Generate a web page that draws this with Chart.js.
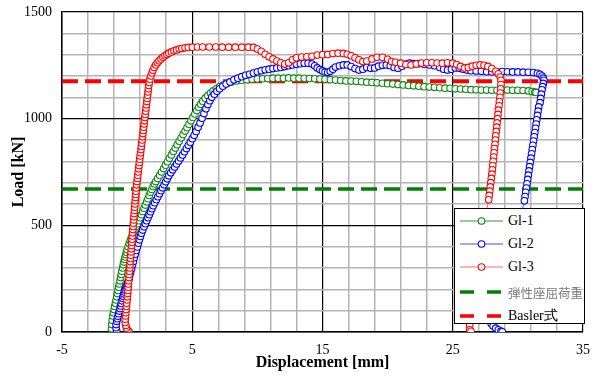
<!DOCTYPE html>
<html>
<head>
<meta charset="utf-8">
<script src="https://cdn.jsdelivr.net/npm/chart.js@4"></script>
<style>
    body { margin: 0; background: #fff; }
    #wrap { position: relative; width: 598px; height: 376px; }
    #legend {
        position: absolute; left: 454px; top: 208px; width: 129px; height: 114px;
        border: 1px solid #000; background: #fff;
        font-family: "Liberation Serif", "Times New Roman", serif; font-size: 14px; color: #000;
    }
    .row { position: absolute; left: 0; height: 20px; display: flex; align-items: center; white-space: nowrap; }
    .row svg { margin-left: 5px; }
    .row span { margin-left: 4px; }
    .jp { font-family: "Noto Sans CJK JP", sans-serif; font-size: 12.5px; color: #7a7a7a; }
</style>
</head>
<body>
<div id="wrap">
    <canvas id="loadChart" width="598" height="376"></canvas>
    <div id="legend"></div>
</div>
<script>
// tick labels shown on the axes
const xLabelValues = [-5, 5, 15, 25, 35];
const yLabelValues = [0, 500, 1000, 1500];

// reference loads (dashed lines)
const bucklingLoad = 670;   // 弾性座屈荷重
const baslerLoad = 1175;    // Basler式

// GI-1 (green)
const gi1Disp = [-1.2, -1.18, -1.15, -1.1, -1.05, -1.0, -0.95, -0.9, -0.85, -0.8, -0.75, -0.7, -0.65, -0.6, -0.55, -0.5, -0.45, -0.4, -0.35, -0.3,
    -0.25, -0.2, -0.15, -0.1, -0.05, 0.0, 0.08, 0.16, 0.24, 0.32, 0.4, 0.5, 0.6, 0.7, 0.8, 0.9, 1.0, 1.1, 1.2, 1.3,
    1.4, 1.5, 1.6, 1.7, 1.8, 1.9, 2.0, 2.1, 2.2, 2.35, 2.5, 2.65, 2.8, 2.95, 3.1, 3.25, 3.4, 3.55, 3.7, 3.85,
    4.0, 4.15, 4.3, 4.45, 4.6, 4.75, 4.9, 5.05, 5.2, 5.35, 5.5, 5.65, 5.8, 6.0, 6.2, 6.4, 6.6, 6.85, 7.1, 7.4,
    7.7, 8.0, 8.4, 8.8, 9.2, 9.6, 10.0, 10.4, 10.8, 11.2, 11.6, 12.0, 12.4, 12.8, 13.2, 13.6, 14.0, 14.4, 14.8, 15.2,
    15.6, 16.0, 16.4, 16.8, 17.2, 17.6, 18.0, 18.4, 18.8, 19.2, 19.6, 20.0, 20.4, 20.8, 21.2, 21.6, 22.0, 22.4, 22.8, 23.2,
    23.6, 24.0, 24.4, 24.8, 25.2, 25.6, 26.0, 26.4, 26.8, 27.2, 27.6, 28.0, 28.4, 28.8, 29.2, 29.6, 30.0, 30.4, 30.8, 31.1,
    31.3, 31.4];
const gi1Load = [15, 35, 55, 75, 90, 105, 120, 135, 150, 165, 180, 195, 210, 225, 240, 255, 270, 285, 300, 315,
    328, 340, 352, 363, 374, 385, 400, 415, 428, 440, 452, 466, 480, 494, 508, 522, 536, 550, 565, 580,
    595, 610, 625, 640, 655, 668, 682, 694, 705, 720, 735, 750, 766, 782, 798, 814, 830, 846, 862, 878,
    894, 910, 926, 942, 958, 974, 990, 1006, 1022, 1038, 1054, 1068, 1082, 1096, 1108, 1120, 1130, 1140, 1150, 1159,
    1166, 1172, 1177, 1180, 1183, 1185, 1186, 1187, 1188, 1190, 1190, 1190, 1191, 1190, 1190, 1189, 1188, 1187, 1186, 1185,
    1183, 1181, 1179, 1177, 1176, 1175, 1173, 1171, 1170, 1168, 1166, 1164, 1162, 1160, 1158, 1156, 1154, 1152, 1150, 1148,
    1147, 1145, 1143, 1142, 1140, 1139, 1138, 1136, 1135, 1134, 1134, 1133, 1133, 1133, 1134, 1133, 1133, 1132, 1130, 1127,
    1125, 1123];

// GI-2 (blue)
const gi2Disp = [-0.8, -0.85, -0.85, -0.8, -0.75, -0.7, -0.65, -0.6, -0.55, -0.5, -0.45, -0.4, -0.35, -0.3, -0.25, -0.2, -0.15, -0.1, -0.05, 0.0,
    0.05, 0.1, 0.15, 0.2, 0.27, 0.34, 0.41, 0.48, 0.55, 0.62, 0.7, 0.78, 0.86, 0.94, 1.02, 1.1, 1.2, 1.3, 1.4, 1.5,
    1.6, 1.7, 1.8, 1.9, 2.0, 2.12, 2.24, 2.36, 2.48, 2.6, 2.72, 2.84, 2.96, 3.08, 3.2, 3.35, 3.5, 3.65, 3.8, 3.95,
    4.1, 4.25, 4.4, 4.55, 4.7, 4.85, 5.0, 5.15, 5.3, 5.45, 5.6, 5.75, 5.9, 6.05, 6.2, 6.35, 6.5, 6.7, 6.9, 7.1,
    7.35, 7.6, 7.9, 8.2, 8.5, 8.8, 9.1, 9.4, 9.7, 10.0, 10.3, 10.6, 10.9, 11.2, 11.5, 11.8, 12.1, 12.4, 12.7, 13.0,
    13.3, 13.6, 13.9, 14.2, 14.4, 14.6, 14.8, 15.0, 15.2, 15.4, 15.6, 15.8, 16.0, 16.3, 16.6, 16.9, 17.2, 17.5, 17.8, 18.1,
    18.4, 18.7, 19.0, 19.3, 19.6, 19.9, 20.2, 20.5, 20.8, 21.1, 21.4, 21.7, 22.0, 22.4, 22.8, 23.2, 23.6, 24.0, 24.3, 24.6,
    24.9, 25.2, 25.5, 25.8, 26.1, 26.4, 26.8, 27.2, 27.6, 28.0, 28.4, 28.8, 29.2, 29.6, 30.0, 30.4, 30.8, 31.2, 31.5, 31.7,
    31.85, 31.95, 32.0, 31.95, 31.9, 31.85, 31.8, 31.75, 31.7, 31.6, 31.55, 31.5, 31.45, 31.4, 31.35, 31.3, 31.25, 31.2, 31.15, 31.1,
    31.05, 31.0, 30.95, 30.9, 30.85, 30.8, 30.75, 30.7, 30.65, 30.6, 30.55, 30.5, 30.3, 30.0, 29.7, 29.4, 29.1, 28.8, 28.5, 28.2,
    27.95, 28.1, 28.3, 28.5, 28.7, 28.8];
const gi2Load = [5, 20, 35, 50, 62, 74, 86, 98, 110, 122, 134, 146, 158, 168, 178, 188, 197, 206, 214, 222,
    230, 240, 252, 264, 280, 297, 314, 331, 348, 365, 382, 399, 416, 432, 448, 463, 478, 493, 508, 522,
    536, 550, 564, 578, 592, 606, 620, 634, 648, 662, 676, 690, 704, 718, 732, 746, 760, 774, 788, 802,
    816, 830, 845, 860, 875, 890, 906, 922, 940, 960, 980, 1002, 1024, 1046, 1066, 1084, 1100, 1115, 1128, 1140,
    1152, 1162, 1172, 1182, 1190, 1197, 1203, 1208, 1214, 1220, 1225, 1229, 1232, 1235, 1238, 1240, 1244, 1248, 1252, 1255,
    1258, 1260, 1260, 1256, 1248, 1238, 1230, 1224, 1219, 1217, 1222, 1232, 1242, 1248, 1252, 1252, 1244, 1235, 1228, 1232,
    1240, 1236, 1238, 1246, 1250, 1252, 1248, 1240, 1236, 1246, 1256, 1260, 1258, 1258, 1255, 1252, 1248, 1240, 1232, 1228,
    1232, 1238, 1236, 1232, 1228, 1225, 1223, 1222, 1220, 1219, 1220, 1221, 1220, 1219, 1219, 1218, 1217, 1216, 1213, 1208,
    1200, 1190, 1180, 1165, 1150, 1135, 1115, 1095, 1075, 1055, 1035, 1015, 995, 975, 955, 935, 915, 895, 875, 855,
    835, 815, 795, 775, 755, 735, 715, 695, 675, 655, 635, 615, 560, 480, 400, 320, 240, 160, 100, 60,
    40, 28, 18, 10, 4, 1];

// GI-3 (red)
const gi3Disp = [0.15, 0.05, -0.05, -0.1, -0.15, -0.15, -0.12, -0.1, -0.08, -0.05, -0.03, 0.0, 0.02, 0.04, 0.06, 0.08, 0.1, 0.12, 0.14, 0.16,
    0.18, 0.2, 0.22, 0.24, 0.26, 0.28, 0.3, 0.32, 0.34, 0.36, 0.38, 0.4, 0.42, 0.44, 0.46, 0.48, 0.5, 0.52, 0.54, 0.56,
    0.58, 0.6, 0.62, 0.64, 0.66, 0.68, 0.7, 0.73, 0.76, 0.79, 0.82, 0.85, 0.88, 0.91, 0.94, 0.97, 1.0, 1.03, 1.06, 1.09,
    1.12, 1.15, 1.18, 1.21, 1.24, 1.27, 1.3, 1.33, 1.36, 1.39, 1.42, 1.45, 1.48, 1.51, 1.54, 1.57, 1.6, 1.63, 1.66, 1.7,
    1.75, 1.82, 1.9, 1.98, 2.08, 2.2, 2.32, 2.45, 2.6, 2.75, 2.9, 3.05, 3.2, 3.4, 3.6, 3.8, 4.0, 4.2, 4.45, 4.7,
    5.0, 5.4, 5.8, 6.3, 6.8, 7.3, 7.8, 8.3, 8.8, 9.3, 9.7, 10.0, 10.3, 10.6, 10.9, 11.2, 11.5, 11.8, 12.1, 12.4,
    12.7, 13.0, 13.4, 13.8, 14.2, 14.6, 15.0, 15.4, 15.8, 16.2, 16.6, 16.9, 17.2, 17.5, 17.8, 18.1, 18.4, 18.8, 19.2, 19.6,
    20.0, 20.3, 20.6, 21.0, 21.4, 21.8, 22.2, 22.6, 23.0, 23.4, 23.8, 24.2, 24.6, 25.0, 25.3, 25.6, 25.9, 26.2, 26.5, 26.8,
    27.1, 27.4, 27.7, 28.0, 28.3, 28.5, 28.65, 28.7, 28.7, 28.68, 28.65, 28.62, 28.58, 28.55, 28.5, 28.47, 28.44, 28.4, 28.37, 28.34,
    28.3, 28.27, 28.24, 28.2, 28.17, 28.14, 28.1, 28.07, 28.04, 28.0, 27.96, 27.92, 27.88, 27.84, 27.8, 27.76, 27.5, 27.2, 26.9, 26.6,
    26.4, 26.3, 26.3, 26.4];
const gi3Load = [2, 8, 18, 30, 45, 60, 75, 90, 105, 120, 135, 150, 165, 180, 195, 210, 225, 240, 255, 270,
    285, 300, 315, 330, 345, 360, 375, 390, 405, 420, 435, 450, 465, 480, 495, 510, 525, 540, 555, 570,
    585, 600, 615, 630, 645, 660, 675, 690, 705, 720, 735, 750, 765, 780, 795, 810, 825, 840, 855, 870,
    885, 900, 915, 930, 945, 960, 975, 990, 1005, 1020, 1035, 1050, 1065, 1080, 1095, 1110, 1125, 1140, 1155, 1170,
    1185, 1200, 1214, 1227, 1240, 1252, 1262, 1271, 1280, 1288, 1295, 1301, 1307, 1313, 1318, 1322, 1326, 1329, 1332, 1334,
    1335, 1336, 1336, 1336, 1336, 1335, 1335, 1335, 1335, 1335, 1334, 1326, 1316, 1302, 1290, 1280, 1270, 1262, 1256, 1262,
    1276, 1285, 1289, 1290, 1292, 1298, 1300, 1301, 1305, 1307, 1306, 1302, 1295, 1285, 1276, 1268, 1270, 1280, 1288, 1288,
    1278, 1268, 1264, 1260, 1254, 1252, 1256, 1261, 1262, 1262, 1261, 1260, 1262, 1260, 1254, 1245, 1238, 1240, 1246, 1250,
    1252, 1250, 1245, 1235, 1222, 1210, 1195, 1180, 1160, 1140, 1120, 1100, 1080, 1060, 1040, 1020, 1000, 980, 960, 940,
    920, 900, 880, 860, 840, 820, 800, 780, 760, 740, 720, 700, 680, 660, 640, 620, 540, 440, 320, 180,
    80, 30, 10, 3];

const xMin = -5, xMax = 35;

function pairs(xs, ys) {
    return xs.map((x, i) => ({ x: x, y: ys[i] }));
}

function curve(label, xs, ys, lineColor, markColor, order) {
    return {
        label: label,
        data: pairs(xs, ys),
        showLine: true,
        borderColor: lineColor,
        borderWidth: 1,
        pointStyle: 'circle',
        pointRadius: 3.3,
        pointBorderWidth: 1.1,
        pointBorderColor: markColor,
        pointBackgroundColor: '#fff',
        order: order
    };
}

function refLine(label, load, color, width, order) {
    return {
        label: label,
        data: [{ x: xMin, y: load }, { x: xMax, y: load }],
        showLine: true,
        borderColor: color,
        borderWidth: width,
        borderDash: [16, 7],
        pointRadius: 0,
        order: order
    };
}

const serif = '"Liberation Serif", "Times New Roman", serif';

new Chart(document.getElementById('loadChart'), {
    type: 'scatter',
    data: {
        datasets: [
            curve('Gl-3', gi3Disp, gi3Load, '#ff6a6a', '#ff0000', 1),
            curve('Gl-2', gi2Disp, gi2Load, '#4a4aff', '#0000ff', 2),
            curve('Gl-1', gi1Disp, gi1Load, '#2e9a2e', '#118811', 3),
            refLine('Basler式', baslerLoad, '#ff0000', 4, 4),
            refLine('弾性座屈荷重', bucklingLoad, '#008000', 3.5, 5)
        ]
    },
    options: {
        responsive: false,
        animation: false,
        layout: { padding: { top: 12, right: 15, left: 0, bottom: 0 } },
        plugins: {
            legend: { display: false },
            tooltip: { enabled: false }
        },
        scales: {
            x: {
                type: 'linear',
                min: xMin,
                max: xMax,
                afterFit: s => { s.height = 44; s.paddingLeft = 0; s.paddingRight = 0; },
                ticks: {
                    stepSize: 2,
                    autoSkip: false,
                    maxRotation: 0,
                    padding: 10,
                    color: '#000',
                    font: { family: serif, size: 14 },
                    callback: v => xLabelValues.includes(v) ? String(v) : ''
                },
                grid: {
                    drawTicks: false,
                    color: c => xLabelValues.includes(c.tick.value) ? '#000' : '#b4b4b4',
                    lineWidth: c => xLabelValues.includes(c.tick.value) ? 1.2 : 1.5
                },
                border: { color: '#000', width: 1.5 },
                title: {
                    display: true,
                    text: 'Displacement [mm]',
                    color: '#000',
                    font: { family: serif, size: 16, weight: 'bold' },
                    padding: { top: 0, bottom: 4 }
                }
            },
            y: {
                min: 0,
                max: 1500,
                afterFit: s => { s.width = 62; s.paddingTop = 0; s.paddingBottom = 0; },
                ticks: {
                    stepSize: 100,
                    autoSkip: false,
                    padding: 10,
                    color: '#000',
                    font: { family: serif, size: 14 },
                    callback: v => yLabelValues.includes(v) ? String(v) : ''
                },
                grid: {
                    drawTicks: false,
                    color: c => yLabelValues.includes(c.tick.value) ? '#000' : '#b4b4b4',
                    lineWidth: c => yLabelValues.includes(c.tick.value) ? 1.2 : 1.5
                },
                border: { color: '#000', width: 1.5 },
                title: {
                    display: true,
                    text: 'Load [kN]',
                    color: '#000',
                    font: { family: serif, size: 16, weight: 'bold' },
                    padding: { top: 9, bottom: 0 }
                }
            }
        }
    }
});

// legend box inside the plot, bottom right
const legendItems = [
    { text: 'Gl-1', line: '#2e9a2e', mark: '#118811', y: 12 },
    { text: 'Gl-2', line: '#4a4aff', mark: '#0000ff', y: 35 },
    { text: 'Gl-3', line: '#ff6a6a', mark: '#ff0000', y: 58 },
    { text: '弾性座屈荷重', dash: '#008000', y: 83, jp: true },
    { text: 'Basler式', dash: '#ff0000', y: 107 }
];
const legendEl = document.getElementById('legend');
legendItems.forEach(item => {
    const row = document.createElement('div');
    row.className = 'row';
    row.style.top = (item.y - 10) + 'px';
    let svg;
    if (item.dash) {
        svg = '<svg width="44" height="10"><line x1="0" y1="5" x2="14" y2="5" stroke="' + item.dash + '" stroke-width="3.5"/>' +
              '<line x1="27" y1="5" x2="41" y2="5" stroke="' + item.dash + '" stroke-width="3.5"/></svg>';
    } else {
        svg = '<svg width="44" height="10"><line x1="0" y1="5" x2="43" y2="5" stroke="' + item.line + '" stroke-width="1.2"/>' +
              '<circle cx="21.5" cy="5" r="3.3" fill="#fff" stroke="' + item.mark + '" stroke-width="1.1"/></svg>';
    }
    row.innerHTML = svg + '<span' + (item.jp ? ' class="jp"' : '') + '>' + item.text + '</span>';
    legendEl.appendChild(row);
});
</script>
</body>
</html>
